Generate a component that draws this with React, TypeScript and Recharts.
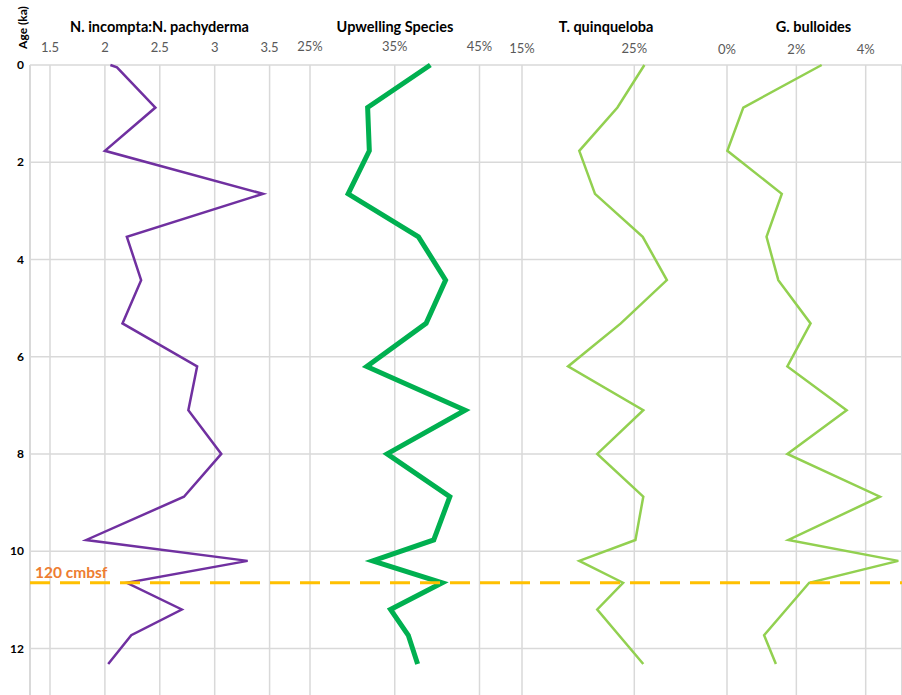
import { LineChart, Line, XAxis, YAxis, CartesianGrid, ReferenceLine } from "recharts";

// Sample ages (ka) shared by the faunal counts
const ages = [0, 0.875, 1.765, 2.65, 3.535, 4.425, 5.315, 6.2, 7.1, 8.0, 8.88, 9.77, 10.2, 10.65, 11.2, 11.73, 12.32];

// N. incompta : N. pachyderma ratio has one extra sample right at the top
const ratioAges = [0, 0.05, 0.875, 1.765, 2.65, 3.535, 4.425, 5.315, 6.2, 7.1, 8.0, 8.88, 9.77, 10.2, 10.65, 11.2, 11.73, 12.32];
const ratio = [2.05, 2.11, 2.46, 2.0, 3.44, 2.2, 2.33, 2.16, 2.84, 2.76, 3.06, 2.72, 1.83, 3.3, 2.2, 2.7, 2.24, 2.03];

// percentages; null = no count at that level
const upwelling = [39.2, 31.8, 32.0, 29.5, 37.8, 41.0, 38.7, 31.7, 43.3, 34.1, 41.5, 39.6, 32.4, 40.6, 34.5, 36.6, 37.7];
const quinqueloba = [25.9, 23.5, 20.1, 21.5, 25.75, 27.9, 23.8, 19.1, 25.8, 21.7, 25.8, 25.1, 20.1, 24.0, 21.7, null, 25.8];
const bulloides = [2.73, 0.47, 0.01, 1.58, 1.14, 1.48, 2.41, 1.74, 3.45, 1.74, 4.41, 1.77, 4.94, 2.37, null, 1.07, 1.41];

const ageTicks = [0, 2, 4, 6, 8, 10, 12];
const ratioTicks = [1.5, 2, 2.5, 3, 3.5];
const upwellingTicks = [25, 35, 45];
const quinquelobaTicks = [15, 25];
const bulloidesTicks = [0, 2, 4];

const boundaryAge = 10.65;
const boundaryLabel = "120 cmbsf";

const toRows = (ys: number[], xs: (number | null)[]) =>
  ys.map((age, i) => ({ age, v: xs[i] })).filter((r) => r.v !== null);

// ---- layout ----
const WIDTH = 902;
const HEIGHT = 700;
const PLOT_LEFT = 30;
const PLOT_RIGHT = 902;
const PLOT_TOP = 65;
const PLOT_BOTTOM = 697;
const AXIS_H = 1; // top axes stack, keep each one thin
const FONT = "Lato, 'Open Sans', sans-serif";
const GRID = "#d9d9d9";

// every panel shares the full plot width; its axis domain is stretched so
// that two reference values land at the wanted pixel columns
function stretchedDomain(a: number, pa: number, b: number, pb: number): [number, number] {
  const k = (pb - pa) / (b - a);
  return [a - (pa - PLOT_LEFT) / k, b + (PLOT_RIGHT - pb) / k];
}

const pct = (v: number) => `${v}%`;

const panels = [
  {
    id: "ratio",
    title: "N. incompta:N. pachyderma",
    titleX: 159.5,
    ticks: ratioTicks,
    domain: stretchedDomain(1.5, 50, 3.5, 269.6),
    fmt: (v: number) => String(v),
    rows: toRows(ratioAges, ratio),
    color: "#7030a0",
    width: 2.5,
  },
  {
    id: "upwelling",
    title: "Upwelling Species",
    titleX: 395,
    ticks: upwellingTicks,
    domain: stretchedDomain(25, 310, 45, 479.5),
    fmt: pct,
    rows: toRows(ages, upwelling),
    color: "#00b050",
    width: 5,
  },
  {
    id: "quinqueloba",
    title: "T. quinqueloba",
    titleX: 606,
    ticks: quinquelobaTicks,
    domain: stretchedDomain(15, 522, 25, 634.3),
    fmt: pct,
    rows: toRows(ages, quinqueloba),
    color: "#92d050",
    width: 2.5,
  },
  {
    id: "bulloides",
    title: "G. bulloides",
    titleX: 813.5,
    ticks: bulloidesTicks,
    domain: stretchedDomain(0, 727, 4, 865.7),
    fmt: pct,
    rows: toRows(ages, bulloides),
    color: "#92d050",
    width: 2.5,
  },
];

export default function App() {
  return (
    <div
      style={{
        position: "fixed",
        left: 0,
        top: 0,
        width: WIDTH,
        height: 695,
        overflow: "hidden",
        background: "#fff",
      }}
    >
      <LineChart
        layout="vertical"
        width={WIDTH}
        height={HEIGHT}
        margin={{
          top: PLOT_TOP - AXIS_H * panels.length,
          right: WIDTH - PLOT_RIGHT,
          bottom: HEIGHT - PLOT_BOTTOM,
          left: 0,
        }}
      >
        {/* horizontal age grid */}
        <CartesianGrid xAxisId="ratio" vertical={false} stroke={GRID} strokeWidth={1.5} />
        {/* vertical grid, one set per panel */}
        {panels.map((p) => (
          <CartesianGrid
            key={`grid-${p.id}`}
            xAxisId={p.id}
            horizontal={false}
            stroke={GRID}
            strokeWidth={1.5}
          />
        ))}

        <YAxis
          type="number"
          dataKey="age"
          domain={[0, 13]}
          ticks={ageTicks}
          interval={0}
          width={PLOT_LEFT}
          axisLine={false}
          tickLine={false}
          tickSize={0}
          tickMargin={6}
          tick={{ fill: "#000", fontSize: 12, fontWeight: 700, fontFamily: FONT }}
        />

        {panels.map((p) => (
          <XAxis
            key={`axis-${p.id}`}
            xAxisId={p.id}
            type="number"
            dataKey="v"
            orientation="top"
            domain={p.domain}
            allowDataOverflow
            ticks={p.ticks}
            interval={0}
            tickFormatter={p.fmt}
            height={AXIS_H}
            axisLine={false}
            tickLine={false}
            tickSize={0}
            tickMargin={11}
            tick={{ fill: "#595959", fontSize: 13, fontFamily: FONT }}
          />
        ))}

        {panels.map((p) => (
          <Line
            key={`line-${p.id}`}
            xAxisId={p.id}
            data={p.rows}
            dataKey="v"
            type="linear"
            stroke={p.color}
            strokeWidth={p.width}
            dot={false}
            activeDot={false}
            isAnimationActive={false}
          />
        ))}

        <ReferenceLine
          xAxisId="ratio"
          y={boundaryAge}
          stroke="#ffc000"
          strokeWidth={3}
          strokeDasharray="20 10"
          label={{
            value: boundaryLabel,
            position: "insideBottomLeft",
            offset: 5,
            fill: "#ed7d31",
            fontSize: 15.5,
            fontWeight: 700,
            fontFamily: FONT,
          }}
        />
      </LineChart>

      {/* panel titles and the age axis title */}
      <svg
        width={WIDTH}
        height={60}
        style={{ position: "absolute", left: 0, top: 0, pointerEvents: "none" }}
      >
        {panels.map((p) => (
          <text
            key={`title-${p.id}`}
            x={p.titleX}
            y={31.5}
            textAnchor="middle"
            fontFamily={FONT}
            fontSize={14.5}
            fontWeight={700}
            fill="#000"
          >
            {p.title}
          </text>
        ))}
        <text
          transform="translate(27, 27.5) rotate(-90)"
          textAnchor="middle"
          fontFamily={FONT}
          fontSize={12}
          fontWeight={700}
          fill="#000"
        >
          Age (ka)
        </text>
      </svg>
    </div>
  );
}
